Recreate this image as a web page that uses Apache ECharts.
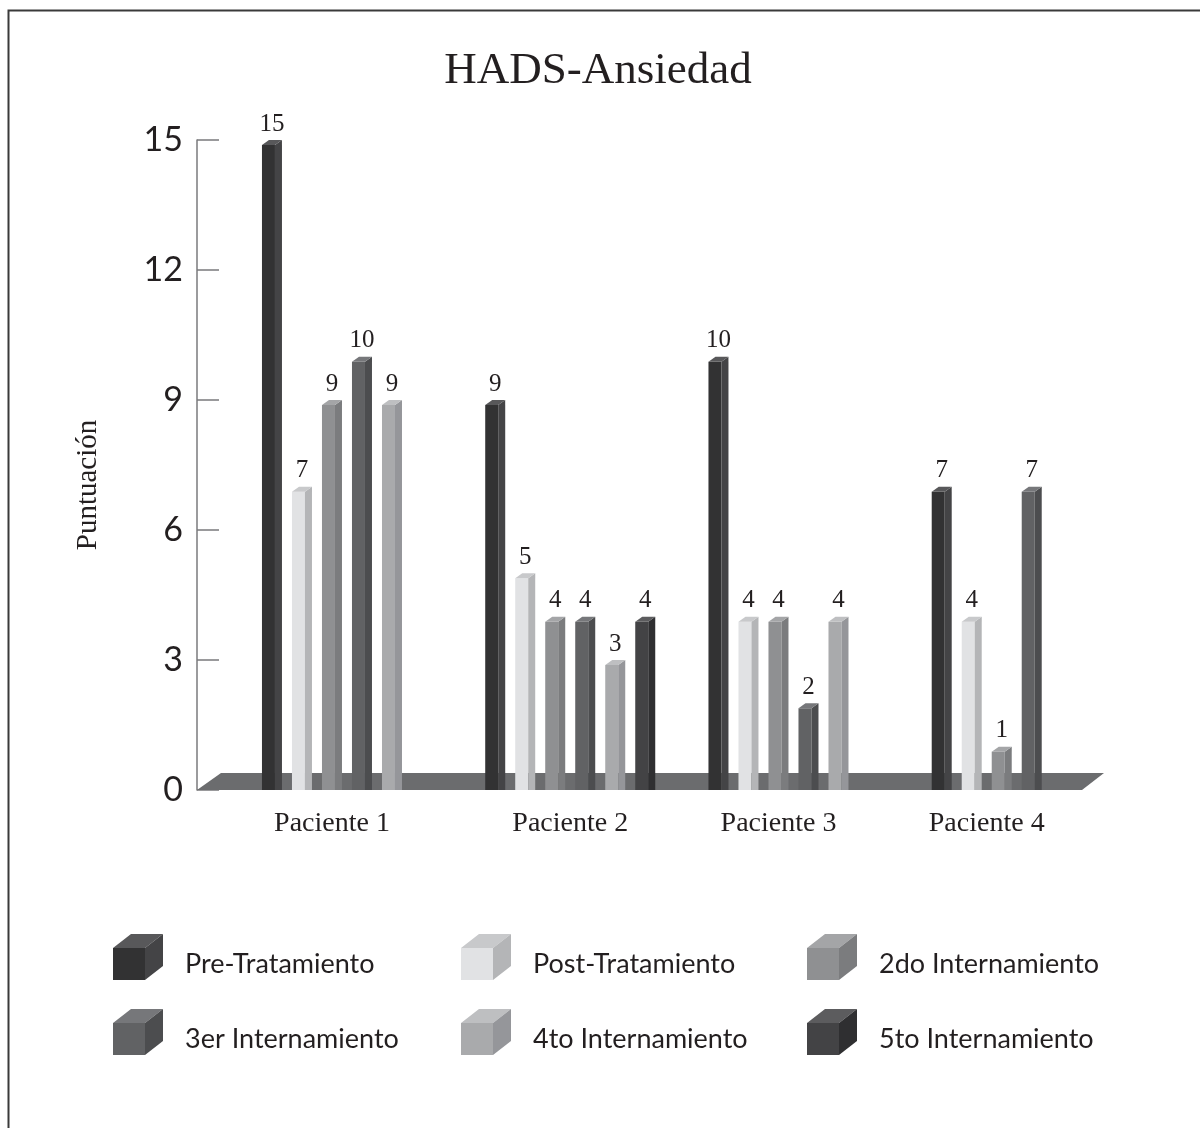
<!DOCTYPE html>
<html>
<head>
<meta charset="utf-8">
<title>HADS-Ansiedad</title>
<script src="https://cdn.jsdelivr.net/npm/echarts@6/dist/echarts.min.js"></script>
<style>
  html, body { margin: 0; padding: 0; background: #ffffff; }
  #chart { width: 1200px; height: 1128px; }
</style>
</head>
<body>
<div id="chart"></div>
<script>
// Patients on the horizontal axis
const categories = ['Paciente 1', 'Paciente 2', 'Paciente 3', 'Paciente 4'];

// Measurement moments (one series each)
const seriesNames = [
  'Pre-Tratamiento', 'Post-Tratamiento', '2do Internamiento',
  '3er Internamiento', '4to Internamiento', '5to Internamiento'
];

// HADS anxiety scores per patient (null = not measured)
const preTratamiento   = [15, 9, 10, 7];
const postTratamiento  = [7, 5, 4, 4];
const internamiento2   = [9, 4, 4, 1];
const internamiento3   = [10, 4, 2, 7];
const internamiento4   = [9, 3, 4, null];
const internamiento5   = [null, 4, null, null];

// Score axis
const yMin = 0;
const yMax = 15;
const yStep = 3;

const seriesValues = [
  preTratamiento, postTratamiento, internamiento2,
  internamiento3, internamiento4, internamiento5
];

// Grey shades for the front, side and top faces of each prism
const shades = [
  { front: '#323233', side: '#444446', top: '#58585a' },
  { front: '#e1e2e4', side: '#b4b5b7', top: '#c8c9cb' },
  { front: '#8f9092', side: '#7b7c7e', top: '#a4a5a7' },
  { front: '#616264', side: '#4c4d4f', top: '#76777a' },
  { front: '#a9aaac', side: '#95969a', top: '#bebfc1' },
  { front: '#434345', side: '#2f2f31', top: '#5c5c5e' }
];

const SERIF = '"Liberation Serif", "Times New Roman", serif';
const SANS = 'Lato, "Open Sans", sans-serif';
const INK = '#231f20';

// Prism geometry inside one category band (fractions of the band width)
const SLOT_START = -0.209;
const SLOT_STEP = 0.1344;
const FACE_W = 13;
const DEPTH_X = 7;
const DEPTH_Y = 5;

// Small cube pictures for the legend (transparent strip below keeps the
// label centred on the cube's front face)
function cubeIcon(shade) {
  const c = document.createElement('canvas');
  c.width = 50; c.height = 60;
  const g = c.getContext('2d');
  g.fillStyle = shade.front;
  g.fillRect(0, 14, 32, 32);
  g.fillStyle = shade.top;
  g.beginPath(); g.moveTo(0, 14); g.lineTo(32, 14); g.lineTo(50, 0); g.lineTo(18, 0); g.closePath(); g.fill();
  g.fillStyle = shade.side;
  g.beginPath(); g.moveTo(32, 14); g.lineTo(50, 0); g.lineTo(50, 32); g.lineTo(32, 46); g.closePath(); g.fill();
  return 'image://' + c.toDataURL();
}

function prismRenderer(k) {
  const shade = shades[k];
  return function (params, api) {
    const cat = api.value(0);
    const v = api.value(1);
    const base = api.coord([cat, 0]);
    const top = api.coord([cat, v]);
    const bw = api.size([1, 0])[0];
    const x = base[0] + bw * (SLOT_START + k * SLOT_STEP);
    const yTop = top[1];
    const yBase = base[1];
    return {
      type: 'group',
      children: [
        { type: 'rect', shape: { x: x, y: yTop + DEPTH_Y, width: FACE_W, height: yBase - yTop - DEPTH_Y },
          style: { fill: shade.front } },
        { type: 'polygon', shape: { points: [[x + FACE_W, yTop + DEPTH_Y], [x + FACE_W + DEPTH_X, yTop], [x + FACE_W + DEPTH_X, yBase], [x + FACE_W, yBase]] },
          style: { fill: shade.side } },
        { type: 'polygon', shape: { points: [[x, yTop + DEPTH_Y], [x + FACE_W, yTop + DEPTH_Y], [x + FACE_W + DEPTH_X, yTop], [x + DEPTH_X, yTop]] },
          style: { fill: shade.top } },
        { type: 'text', style: { text: String(v), x: x + (FACE_W + DEPTH_X) / 2, y: yTop - 16,
            align: 'center', verticalAlign: 'middle', fontSize: 25, fontFamily: SERIF, fill: INK } }
      ]
    };
  };
}

// Floor slab under the prisms
function floorRenderer(params, api) {
  const cs = params.coordSys;
  const yb = cs.y + cs.height;
  return {
    type: 'polygon',
    shape: { points: [[cs.x, yb], [cs.x + cs.width - 8, yb], [cs.x + cs.width + 14, yb - 17], [cs.x + 24, yb - 17]] },
    style: { fill: '#6b6c6e' }
  };
}

// Patient names centred under the prisms that are present
function categoryLabelRenderer(params, api) {
  const cat = api.value(0);
  let last = 0;
  seriesValues.forEach(function (vals, k) { if (vals[cat] != null) last = k; });
  const base = api.coord([cat, 0]);
  const bw = api.size([1, 0])[0];
  const left = base[0] + bw * SLOT_START;
  const right = base[0] + bw * (SLOT_START + last * SLOT_STEP) + FACE_W + DEPTH_X;
  return {
    type: 'text',
    style: { text: categories[cat], x: (left + right) / 2, y: base[1] + 34,
      align: 'center', verticalAlign: 'middle', fontSize: 28, fontFamily: SERIF, fill: INK }
  };
}

const icons = shades.map(cubeIcon);
const legendCols = [113, 461, 807];
const legendRows = [934, 1009];

const series = [
  { type: 'custom', name: 'floor', renderItem: floorRenderer, data: [[0, 0]], z: 1, silent: true }
];
seriesValues.forEach(function (vals, k) {
  series.push({
    type: 'custom',
    name: seriesNames[k],
    renderItem: prismRenderer(k),
    encode: { x: 0, y: 1 },
    itemStyle: { color: shades[k].front },
    data: vals.map(function (v, i) { return v == null ? null : [i, v]; }).filter(function (d) { return d; }),
    z: 2
  });
});
series.push({
  type: 'custom', name: 'labels', renderItem: categoryLabelRenderer,
  data: categories.map(function (c, i) { return [i, 0]; }), z: 3, silent: true
});

const chart = echarts.init(document.getElementById('chart'), null, { renderer: 'canvas' });
chart.setOption({
  animation: false,
  backgroundColor: '#ffffff',
  title: {
    text: 'HADS-Ansiedad',
    left: 593,
    textAlign: 'center',
    top: 44,
    textStyle: { fontFamily: SERIF, fontSize: 45, fontWeight: 'normal', color: INK }
  },
  grid: { left: 197, right: 110, top: 140, bottom: 338 },
  xAxis: {
    type: 'category',
    data: categories,
    axisLine: { show: false },
    axisTick: { show: false },
    axisLabel: { show: false },
    splitLine: { show: false }
  },
  yAxis: {
    type: 'value',
    min: yMin,
    max: yMax,
    interval: yStep,
    name: 'Puntuación',
    nameLocation: 'middle',
    nameRotate: 90,
    nameGap: 94,
    nameTextStyle: { fontFamily: SERIF, fontSize: 29, color: INK, padding: [0, 40, 0, 0] },
    axisLine: { show: true, lineStyle: { color: '#7a7a7c', width: 1.5 } },
    axisTick: { show: true, inside: true, length: 22, lineStyle: { color: '#7a7a7c', width: 1.5 } },
    splitLine: { show: false },
    axisLabel: { fontFamily: SANS, fontSize: 34, color: INK, margin: 14 }
  },
  legend: seriesNames.map(function (n, i) {
    return {
      data: [{ name: n, icon: icons[i] }],
      left: legendCols[i % 3],
      top: legendRows[Math.floor(i / 3)],
      padding: 0,
      itemWidth: 50,
      itemHeight: 60,
      selectedMode: false,
      textStyle: { fontFamily: SANS, fontSize: 27, color: INK, padding: [0, 0, 0, 17] }
    };
  }),
  graphic: [
    { type: 'rect', left: 6, top: 8, shape: { width: 1300, height: 1300 },
      style: { fill: 'none', stroke: '#3a3a3a', lineWidth: 2 }, silent: true }
  ],
  series: series
});
</script>
</body>
</html>
